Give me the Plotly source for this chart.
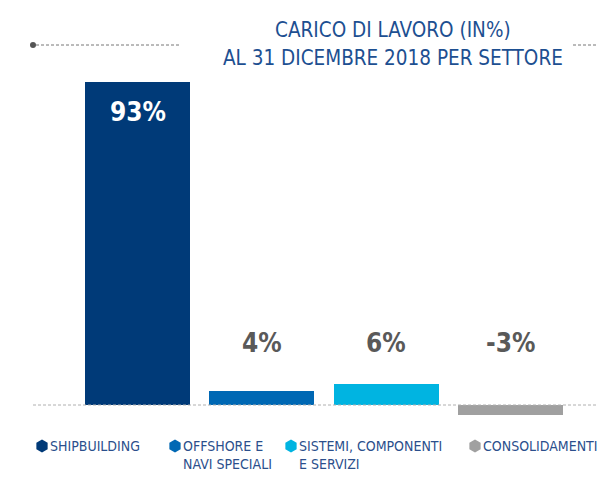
import plotly.graph_objects as go

categories = ["SHIPBUILDING", "OFFSHORE E<br>NAVI SPECIALI", "SISTEMI, COMPONENTI<br>E SERVIZI", "CONSOLIDAMENTI"]
values = [93, 4, 6, -3]
value_labels = ["93%", "4%", "6%", "-3%"]
colors = ["#003a78", "#0068b4", "#00b4e1", "#a0a0a0"]
title_lines = ["CARICO DI LAVORO (IN%)", "AL 31 DICEMBRE 2018 PER SETTORE"]

W, H = 598, 487
FONT = "DejaVu Sans Condensed, Liberation Sans Narrow, sans-serif"

px_per_cat = 124.33
x0_px = 137.5
base_px = 405
px_per_unit = 3.473

x_range = [(0 - x0_px) / px_per_cat, (W - x0_px) / px_per_cat]
y_range = [-(H - base_px) / px_per_unit, base_px / px_per_unit]

fig = go.Figure()
fig.add_trace(go.Bar(
    x=list(range(len(values))), y=values, marker_color=colors,
    width=0.845, showlegend=False, hoverinfo="skip", marker_line_width=0,
))

leg_x = [42, 175, 291, 475]
leg_y = [446] * 4
fig.add_trace(go.Scatter(
    x=leg_x, y=leg_y, xaxis="x2", yaxis="y2", mode="markers",
    marker=dict(symbol="hexagon", size=13, color=colors, line_width=0),
    showlegend=False, hoverinfo="skip",
))

annotations = []
for i, (v, lab) in enumerate(zip(values, value_labels)):
    if i == 0:
        annotations.append(dict(x=i, y=v, xref="x", yref="y", text=lab, showarrow=False,
                                yshift=-30, font=dict(family=FONT, size=26, color="white", weight="bold")))
    else:
        annotations.append(dict(x=i, y=(base_px - 343) / px_per_unit, xref="x", yref="y", text=lab,
                                showarrow=False,
                                font=dict(family=FONT, size=26, color="#595959", weight="bold")))

for i, cat in enumerate(categories):
    annotations.append(dict(x=(leg_x[i] + 6) / W, y=1 - 436 / H, xref="paper", yref="paper",
                            text=cat, showarrow=False, xanchor="left", yanchor="top", align="left",
                            font=dict(family=FONT, size=14, color="#2b4f8c")))

for j, (line, yc) in enumerate(zip(title_lines, [30, 58])):
    annotations.append(dict(x=393 / W, y=1 - yc / H, xref="paper", yref="paper",
                            text=line, showarrow=False, xanchor="center", yanchor="middle",
                            font=dict(family=FONT, size=20.5, color="#1d4f91")))

shapes = [
    dict(type="line", xref="paper", yref="y", x0=33 / W, x1=1, y0=0, y1=0,
         line=dict(color="#b0b0b0", width=1, dash="3px,2px"), layer="above"),
    dict(type="line", xref="paper", yref="paper", x0=36 / W, x1=179 / W, y0=1 - 45 / H, y1=1 - 45 / H,
         line=dict(color="#777777", width=1, dash="3px,2px")),
    dict(type="line", xref="paper", yref="paper", x0=573 / W, x1=1, y0=1 - 45 / H, y1=1 - 45 / H,
         line=dict(color="#777777", width=1, dash="3px,2px")),
    dict(type="circle", xref="paper", yref="paper", x0=30 / W, x1=36 / W, y0=1 - 48 / H, y1=1 - 42 / H,
         fillcolor="#555555", line_width=0),
]

fig.update_layout(
    width=W, height=H, margin=dict(l=0, r=0, t=0, b=0),
    paper_bgcolor="white", plot_bgcolor="white",
    xaxis=dict(range=x_range, visible=False, fixedrange=True),
    yaxis=dict(range=y_range, visible=False, fixedrange=True),
    xaxis2=dict(range=[0, W], overlaying="x", visible=False),
    yaxis2=dict(range=[H, 0], overlaying="y", visible=False),
    annotations=annotations, shapes=shapes, bargap=0,
)

fig.write_html("out.html", config={"displayModeBar": False},
               post_script="document.body.style.margin='0px';")
